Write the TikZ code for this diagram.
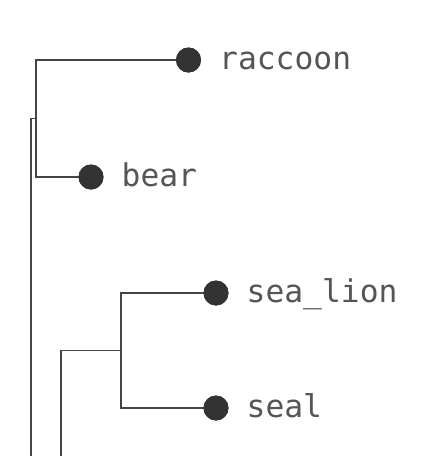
\documentclass[tikz,border=0pt]{standalone}
\usepackage{fontspec}
\setmonofont{DejaVu Sans Mono}
\definecolor{edgec}{HTML}{444444}
\definecolor{dotc}{HTML}{333333}
\definecolor{textc}{HTML}{555555}
\begin{document}
\begin{tikzpicture}[x=1pt,y=-1pt,
  edge/.style={draw=edgec,line width=1.4pt},
  leaf/.style={circle,fill=dotc,minimum size=25pt,inner sep=0pt},
  lab/.style={anchor=base west,inner sep=0pt,text=textc,font=\ttfamily\fontsize{31.3}{36}\selectfont}]
\useasboundingbox (0,0) rectangle (446,456);
% leaves
\node[leaf] (raccoon) at (188.5,60) {};
\node[leaf] (bear) at (91,177) {};
\node[leaf] (sealion) at (216,293) {};
\node[leaf] (seal) at (216,408) {};
% labels
\node[lab] (lraccoon) at (219,69.5) {raccoon};
\node[lab] (lbear) at (121.5,186.5) {bear};
\node[lab] (lsealion) at (246.5,302.5) {sea\_lion};
\node[lab] (lseal) at (246.5,417.5) {seal};
% internal coordinates
\coordinate (n1) at (36,118.5);
\coordinate (n2) at (121,350.5);
\coordinate (n3) at (61,350.5);
\coordinate (root) at (31,118.5);
\coordinate (rootbot) at (31,460);
\coordinate (n3bot) at (61,460);
% edges
\draw[edge] (raccoon.center) -| (n1) |- (bear.center);
\draw[edge] (n1) -- (root) -- (rootbot);
\draw[edge] (sealion.center) -| (n2) |- (seal.center);
\draw[edge] (n2) -- (n3) -- (n3bot);
% redraw dots on top
\node[leaf] at (raccoon) {};
\node[leaf] at (bear) {};
\node[leaf] at (sealion) {};
\node[leaf] at (seal) {};
\end{tikzpicture}
\end{document}
